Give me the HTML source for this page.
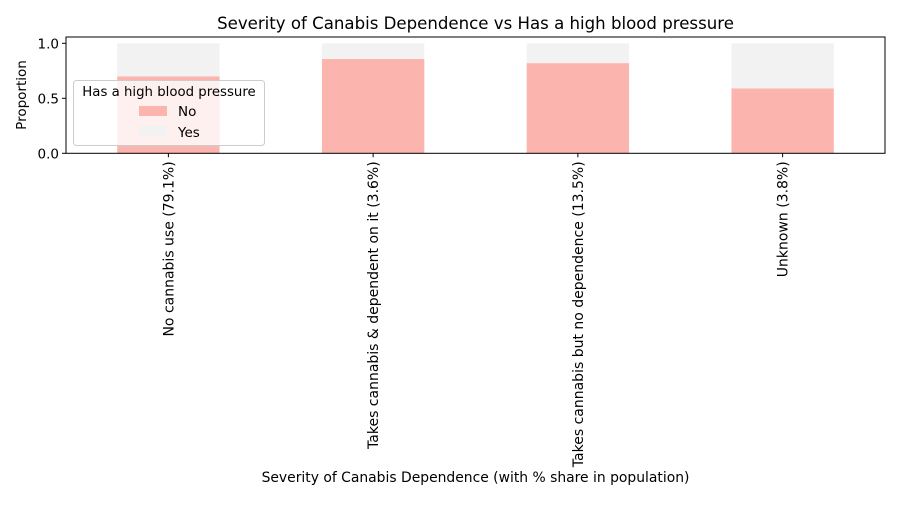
<!DOCTYPE html>
<html><head><meta charset="utf-8"><style>
body{margin:0;background:#fff;font-family:"Liberation Sans","DejaVu Sans",sans-serif;}
svg text{font-family:"DejaVu Sans","Liberation Sans",sans-serif;}
</style></head><body>
<svg id="chart" width="900" height="500" viewBox="0 0 900 500" xmlns="http://www.w3.org/2000/svg">
<text x="475.5" y="29" text-anchor="middle" font-size="16.6" fill="#000">Severity of Canabis Dependence vs Has a high blood pressure</text>
<g id="bars"></g>
<rect x="66" y="37" width="819" height="116.3" fill="none" stroke="#000" stroke-width="1"/>
<g id="yaxis"></g><g id="xaxis"></g>
<text transform="translate(26,95) rotate(-90)" text-anchor="middle" font-size="13.5">Proportion</text>
<text x="475.5" y="482" text-anchor="middle" font-size="13.9">Severity of Canabis Dependence (with % share in population)</text>
<g>
<rect x="73.5" y="80.5" width="191" height="65" rx="3" fill="#fff" fill-opacity="0.8" stroke="#ccc"/>
<text x="169" y="96" text-anchor="middle" font-size="13.3">Has a high blood pressure</text>
<rect x="139" y="106" width="28" height="10" fill="#fbb4ae"/>
<text x="178" y="116" font-size="13.5">No</text>
<rect x="139" y="126" width="28" height="10" fill="#f2f2f2"/>
<text x="178" y="137" font-size="13.5">Yes</text>
</g>
</svg>
<script>
const categories=["No cannabis use (79.1%)","Takes cannabis & dependent on it (3.6%)","Takes cannabis but no dependence (13.5%)","Unknown (3.8%)"];
const noValues=[0.70,0.857,0.82,0.59];
const yesValues=[0.30,0.143,0.18,0.41];
const yTicks=[0,0.5,1.0];
const yTickLabels=["0.0","0.5","1.0"];
const NS="http://www.w3.org/2000/svg";
const X0=66,W=819,Y0=153.3,YS=110;
const step=W/categories.length,bw=step*0.5;
const xc=i=>X0+step*(i+0.5);
const y=v=>Y0-v*YS;
function mk(t,a,p){const e=document.createElementNS(NS,t);for(const k in a)e.setAttribute(k,a[k]);p.appendChild(e);return e;}
const bars=document.getElementById('bars'),ya=document.getElementById('yaxis'),xa=document.getElementById('xaxis');
categories.forEach((c,i)=>{
  const b1=mk('rect',{x:xc(i)-bw/2,y:y(noValues[i]),width:bw,height:Y0-y(noValues[i]),fill:'#fbb4ae'},bars);
  
  
  const b2=mk('rect',{x:xc(i)-bw/2,y:y(noValues[i]+yesValues[i]),width:bw,height:yesValues[i]*YS,fill:'#f2f2f2'},bars);
  
  
  mk('line',{x1:xc(i),x2:xc(i),y1:Y0,y2:Y0+4,stroke:'#000'},xa);
  const t=mk('text',{transform:`translate(${xc(i)+5},${Y0+8}) rotate(-90)`,'text-anchor':'end','font-size':14},xa);
  t.textContent=c;
  
  
});
yTicks.forEach((v,i)=>{
  mk('line',{x1:X0-4,x2:X0,y1:y(v),y2:y(v),stroke:'#000'},ya);
  const t=mk('text',{x:X0-7,y:y(v)+5,'text-anchor':'end','font-size':13.5},ya);
  t.textContent=yTickLabels[i];
  
  
});
</script>
</body></html>
